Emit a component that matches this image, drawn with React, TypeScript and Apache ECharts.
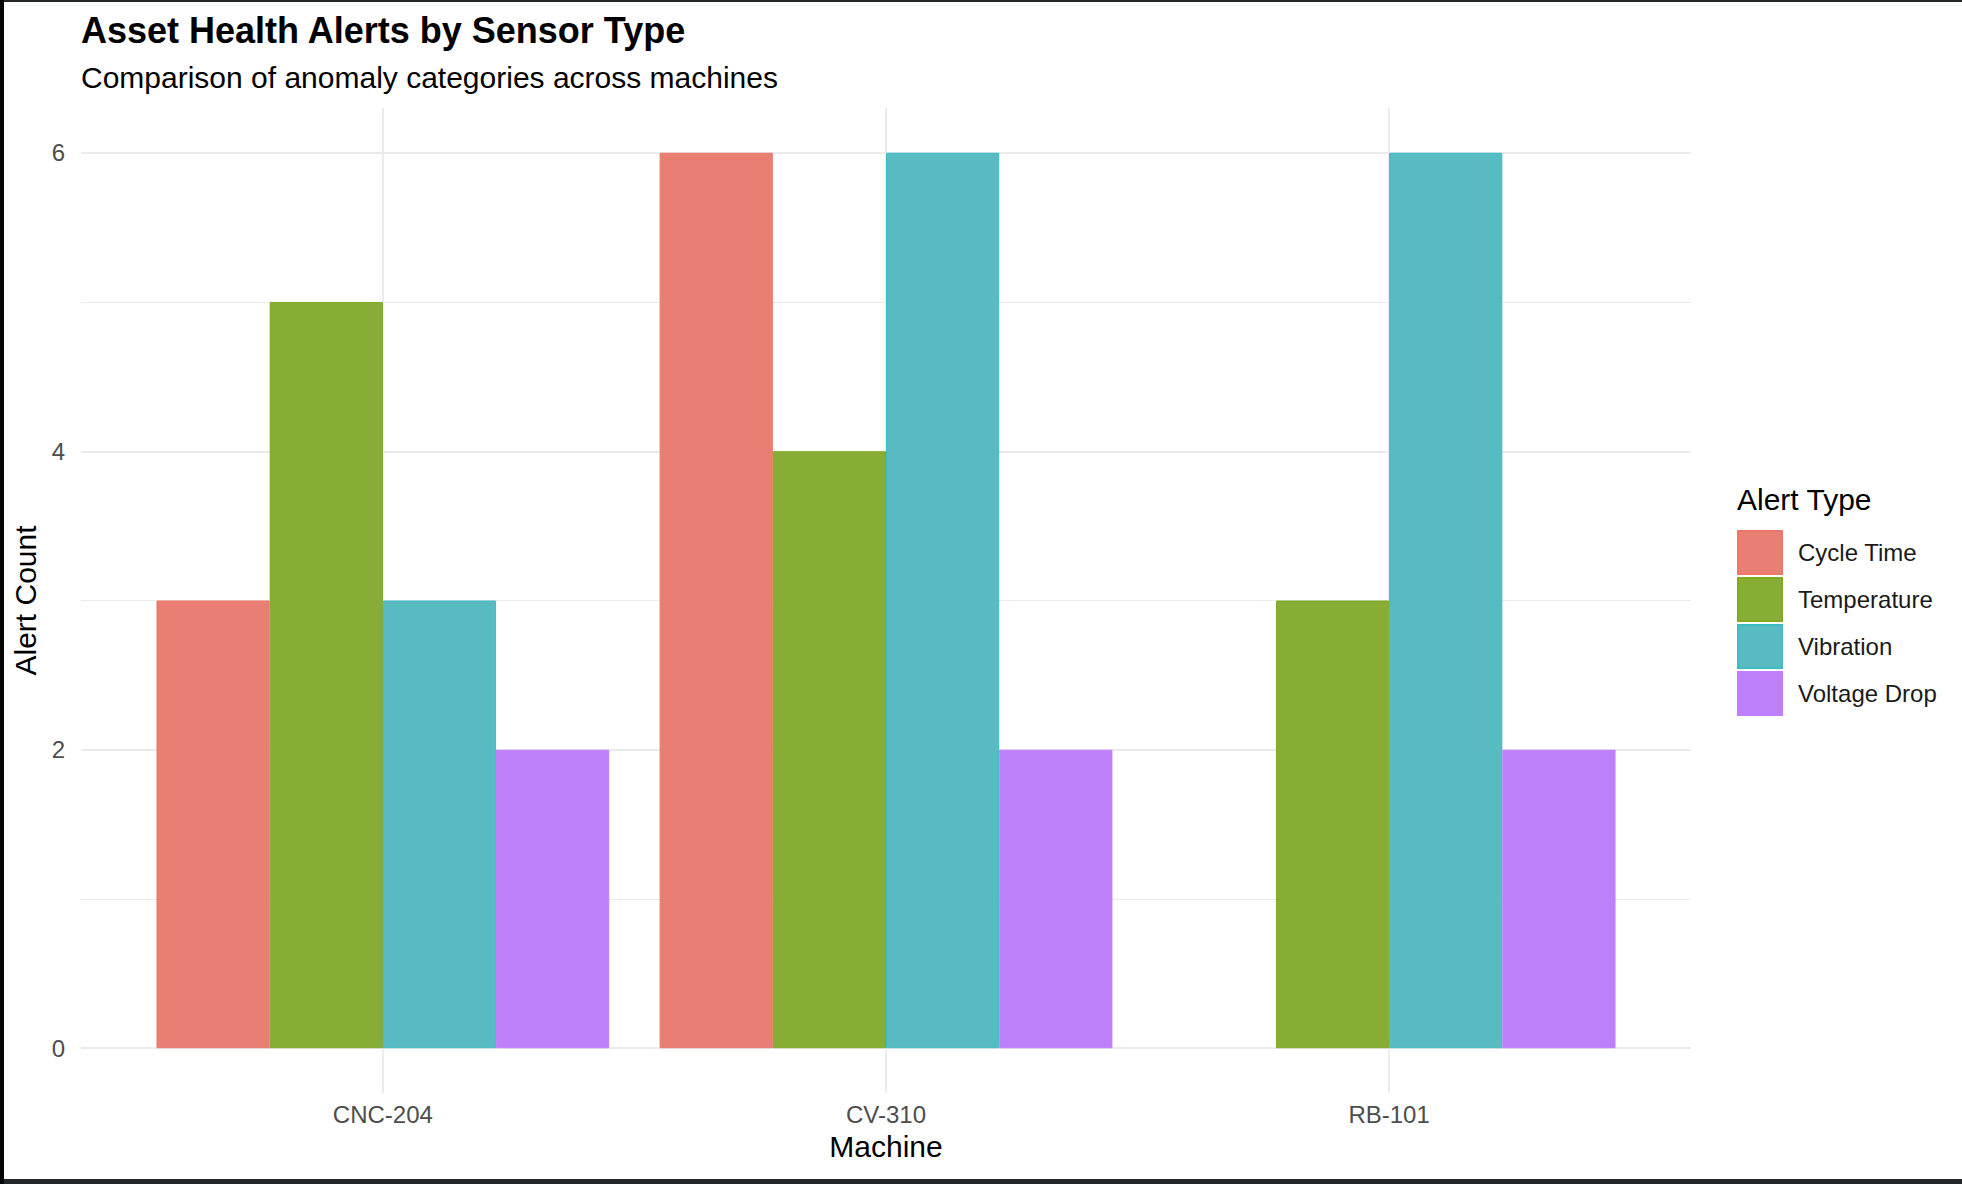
import React, { useEffect, useRef } from "react";
import * as echarts from "echarts";

// Alert counts per machine, one array per alert type (null = no alerts recorded)
const machines = ["CNC-204", "CV-310", "RB-101"];
const alertTypes = ["Cycle Time", "Temperature", "Vibration", "Voltage Drop"];
const cycleTime: (number | null)[] = [3, 6, null];
const temperature: (number | null)[] = [5, 4, 3];
const vibration: (number | null)[] = [3, 6, 6];
const voltageDrop: (number | null)[] = [2, 2, 2];
const seriesValues = [cycleTime, temperature, vibration, voltageDrop];

// Axis ticks
const yTickLabels = [0, 2, 4, 6];
const yMajorGrid = [0, 2, 4, 6];
const yMinorGrid = [1, 3, 5];
const xPositions = [1, 2, 3];

const fills = ["#E87F72", "#88AD36", "#57BBC1", "#BD80F8"];
const edges = ["#EE776C", "#7FAA22", "#3EBCC2", "#C27CFF"];

const FONT = "Liberation Sans, Arial, Helvetica, sans-serif";
const GRID_COLOR = "#EBEBEB";

export default function App() {
  const ref = useRef<HTMLDivElement>(null);

  useEffect(() => {
    if (!ref.current) return;
    const chart = echarts.init(ref.current, undefined, { renderer: "svg" });

    const gridLines: any[] = [
      ...yMajorGrid.map((v) => ({ yAxis: v, lineStyle: { width: 2, color: GRID_COLOR, type: "solid" } })),
      ...yMinorGrid.map((v) => ({ yAxis: v, lineStyle: { width: 1, color: GRID_COLOR, type: "solid" } })),
      ...xPositions.map((v) => ({ xAxis: v, lineStyle: { width: 2, color: GRID_COLOR, type: "solid" } })),
    ];

    const bars: any[] = alertTypes.map((name, si) => ({
      name,
      type: "bar",
      barGap: "0%",
      barCategoryGap: "10%",
      z: 2,
      itemStyle: { color: fills[si], borderColor: edges[si], borderWidth: 1 },
      emphasis: { disabled: true },
      data: seriesValues[si]
        .map((v, i) => (v === null ? null : [xPositions[i], v]))
        .filter((d) => d !== null),
    }));

    // Panel grid lines, drawn behind the bars
    const panelGrid: any = {
      name: "panel-grid",
      type: "line",
      data: [],
      symbol: "none",
      silent: true,
      z: 0,
      markLine: {
        silent: true,
        z: 0,
        symbol: ["none", "none"],
        label: { show: false },
        emphasis: { disabled: true },
        animation: false,
        data: gridLines,
      },
    };

    chart.setOption({
      animation: false,
      backgroundColor: "#FFFFFF",
      textStyle: { fontFamily: FONT },
      title: [
        {
          text: "Asset Health Alerts by Sensor Type",
          left: 81,
          top: 12,
          padding: 0,
          textStyle: { fontFamily: FONT, fontSize: 36, fontWeight: "bold", color: "#000000" },
        },
        {
          text: "Comparison of anomaly categories across machines",
          left: 81,
          top: 62,
          padding: 0,
          textStyle: { fontFamily: FONT, fontSize: 30, fontWeight: "normal", color: "#000000" },
        },
        {
          text: "Alert Type",
          left: 1737,
          top: 484,
          padding: 0,
          textStyle: { fontFamily: FONT, fontSize: 30, fontWeight: "normal", color: "#000000" },
        },
      ],
      legend: {
        data: alertTypes,
        orient: "vertical",
        left: 1737,
        top: 530,
        padding: 0,
        icon: "rect",
        itemWidth: 44,
        itemHeight: 43,
        itemGap: 2,
        selectedMode: false,
        textStyle: { fontFamily: FONT, fontSize: 24, color: "#1A1A1A", padding: [0, 0, 0, 11] },
      },
      grid: { left: 81, right: 271, top: 108, bottom: 91, containLabel: false },
      xAxis: {
        type: "value",
        min: 0.4,
        max: 3.6,
        name: "Machine",
        nameLocation: "middle",
        nameGap: 38,
        nameTextStyle: { fontFamily: FONT, fontSize: 30, color: "#000000" },
        axisLine: { show: false },
        axisTick: { show: false, customValues: xPositions },
        splitLine: { show: false },
        axisLabel: {
          customValues: xPositions,
          margin: 9,
          fontFamily: FONT,
          fontSize: 24,
          color: "#4D4D4D",
          formatter: (v: number) => machines[Math.round(v) - 1] ?? "",
        },
      },
      yAxis: {
        type: "value",
        min: -0.3,
        max: 6.3,
        name: "Alert Count",
        nameLocation: "middle",
        nameGap: 31,
        nameTextStyle: { fontFamily: FONT, fontSize: 30, color: "#000000" },
        axisLine: { show: false },
        axisTick: { show: false, customValues: yTickLabels },
        splitLine: { show: false },
        axisLabel: {
          customValues: yTickLabels,
          margin: 16,
          fontFamily: FONT,
          fontSize: 24,
          color: "#4D4D4D",
        },
      },
      graphic: [
        { type: "rect", shape: { x: 0, y: 0, width: 1962, height: 2 }, style: { fill: "#23272A" }, silent: true },
        { type: "rect", shape: { x: 0, y: 1179, width: 1962, height: 5 }, style: { fill: "#23272A" }, silent: true },
        { type: "rect", shape: { x: 0, y: 0, width: 4, height: 1184 }, style: { fill: "#050505" }, silent: true },
      ],
      series: [panelGrid, ...bars],
    });

    return () => chart.dispose();
  }, []);

  return (
    <div
      ref={ref}
      style={{ position: "fixed", left: 0, top: 0, width: 1962, height: 1184 }}
    />
  );
}
